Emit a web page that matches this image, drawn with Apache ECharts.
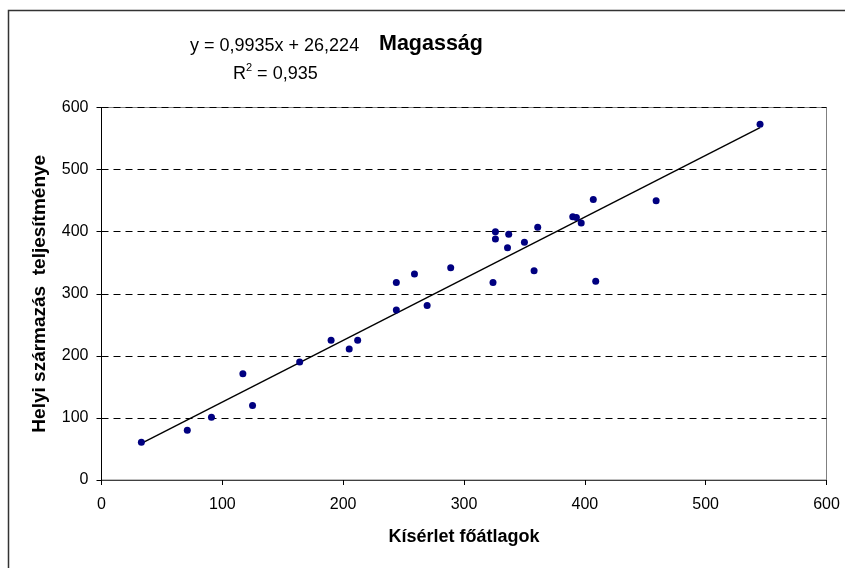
<!DOCTYPE html>
<html>
<head>
<meta charset="utf-8">
<script src="https://cdn.jsdelivr.net/npm/echarts@6/dist/echarts.min.js"></script>
<style>
  html, body { margin: 0; padding: 0; background: #fff; }
  #chart { width: 845px; height: 568px; }
</style>
</head>
<body>
<div id="chart"></div>
<script>
// Kísérlet főátlagok (x) vs. helyi származás teljesítménye (y)
var xValues = [33, 71, 91, 117, 125, 164, 190, 205, 212, 244, 244, 259, 269.5, 289, 324, 326, 326, 336, 337, 350, 358, 361, 390, 393, 397, 407, 409, 459, 545];
var yValues = [61, 80, 101, 171, 120, 190, 225, 211, 225, 274, 318, 332, 281, 342, 318, 400, 388, 374, 396, 383, 337, 407, 424, 423, 414, 452, 320, 450, 573];

// Linear trend line coefficients (as shown in the equation label)
var trendSlope = 0.9935;
var trendIntercept = 26.224;
var rSquared = 0.935;

var axisTicks = [0, 100, 200, 300, 400, 500, 600];

var points = xValues.map(function (x, i) { return [x, yValues[i]]; });
var xMin = Math.min.apply(null, xValues);
var xMax = Math.max.apply(null, xValues);
var trendLine = [
  [xMin, trendSlope * xMin + trendIntercept],
  [xMax, trendSlope * xMax + trendIntercept]
];

function huNum(v, digits) {
  return v.toFixed(digits).replace('.', ',');
}

var FONT = '"Liberation Sans", Arial, sans-serif';

var chart = echarts.init(document.getElementById('chart'), null, { renderer: 'canvas' });
chart.setOption({
  backgroundColor: '#ffffff',
  animation: false,
  textStyle: { fontFamily: FONT },
  grid: {
    left: 101.5, right: 18.5, top: 107.5, bottom: 88,
    show: true, borderColor: '#808080', borderWidth: 1, backgroundColor: 'transparent'
  },
  xAxis: {
    type: 'value',
    min: axisTicks[0], max: axisTicks[axisTicks.length - 1], interval: 100,
    name: 'Kísérlet főátlagok',
    nameLocation: 'middle', nameGap: 48,
    nameTextStyle: { fontFamily: FONT, fontWeight: 'bold', fontSize: 18, color: '#000' },
    axisLine: { onZero: false, lineStyle: { color: '#404040', width: 1 } },
    axisTick: { show: true, inside: false, length: 5, lineStyle: { color: '#000' } },
    axisLabel: { fontFamily: FONT, fontSize: 16, color: '#000', margin: 17 },
    splitLine: { show: false }
  },
  yAxis: {
    type: 'value',
    min: axisTicks[0], max: axisTicks[axisTicks.length - 1], interval: 100,
    name: 'Helyi származás  teljesítménye',
    nameLocation: 'middle', nameGap: 52,
    nameTextStyle: { fontFamily: FONT, fontWeight: 'bold', fontSize: 19, color: '#000' },
    axisLine: { onZero: false, lineStyle: { color: '#000', width: 1 } },
    axisTick: { show: true, inside: false, length: 5, lineStyle: { color: '#000' } },
    axisLabel: { fontFamily: FONT, fontSize: 16, color: '#000', margin: 13 },
    splitLine: { show: true, lineStyle: { color: '#000', type: [7, 5], width: 1 } }
  },
  graphic: [
    {
      type: 'rect', silent: true,
      shape: { x: 8.5, y: 10.5, width: 900, height: 600 },
      style: { fill: 'none', stroke: '#333', lineWidth: 1.5 }
    },
    {
      type: 'text', left: 190, top: 37,
      style: {
        text: 'y = ' + huNum(trendSlope, 4) + 'x + ' + huNum(trendIntercept, 3),
        font: '18px ' + FONT, fill: '#000'
      }
    },
    {
      type: 'text', left: 379, top: 33,
      style: { text: 'Magasság', font: 'bold 21.5px ' + FONT, fill: '#000' }
    },
    {
      type: 'text', left: 233, top: 62,
      style: {
        text: '{a|R}{s|2}{a| = ' + huNum(rSquared, 3) + '}',
        rich: {
          a: { fontFamily: FONT, fontSize: 18, color: '#000', verticalAlign: 'bottom', lineHeight: 21 },
          s: { fontFamily: FONT, fontSize: 11, color: '#000', verticalAlign: 'top', lineHeight: 21, padding: [0, 0, 8, 0] }
        }
      }
    }
  ],
  series: [
    {
      type: 'line',
      data: trendLine,
      symbol: 'none',
      lineStyle: { color: '#000', width: 1.4 },
      silent: true,
      z: 2
    },
    {
      type: 'scatter',
      data: points,
      symbol: 'circle',
      symbolSize: 7,
      itemStyle: { color: '#000080', opacity: 1 },
      z: 3
    }
  ]
});
</script>
</body>
</html>
